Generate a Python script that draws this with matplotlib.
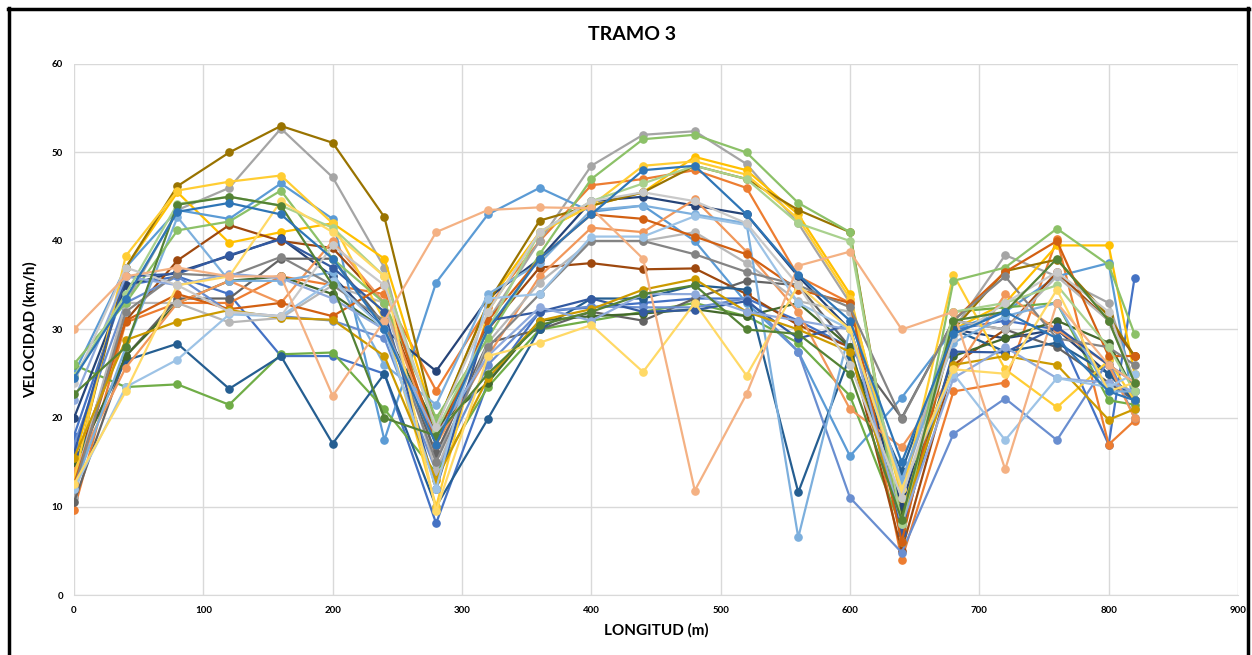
import matplotlib
matplotlib.use("Agg")
import matplotlib.pyplot as plt
from matplotlib.lines import Line2D

plt.rcParams['font.family'] = ['Lato', 'DejaVu Sans']

# distance along the section (m)
longitud = [0, 40, 80, 120, 160, 200, 240, 280, 320, 360, 400,
            440, 480, 520, 560, 600, 640, 680, 720, 760, 800, 820]

# speed runs (km/h)
s1 = [18, 35, 36, 34, 27, 27, 25, 8.1, 24, 32, 32.5, 33, 33.5, 33.5, 31, 28, 8, 30, 31, 30, 17, 35.8]
s2 = [9.6, 30.8, 33, 33, 36, 35, 34, 23.1, 32.5, 40, 46.3, 47, 48, 46, 36, 33, 4.0, 23, 24, 40.2, 17, 19.7]
s3 = [11, 33, 43.5, 46, 52.7, 47.2, 37, 15, 31, 40, 48.5, 52, 52.4, 48.7, 42, 33, 12, 30, 38.4, 36, 33, 24]
s4 = [15, 37, 45.5, 39.8, 41, 42, 38, 19, 33, 41, 44, 45.5, 49.5, 48, 43, 34, 9, 30, 33, 39.5, 39.5, 25]
s5 = [25, 37, 43.5, 42.5, 46.5, 42.5, 17.5, 35.3, 43, 46, 43.3, 44, 40, 33, 27.5, 15.7, 22.3, 30, 32, 36, 37.5, 21]
s6 = [26, 23.5, 23.8, 21.5, 27.2, 27.4, 21, 13.8, 23.5, 30, 31, 32, 33, 31.5, 28.5, 22.5, 7.5, 32, 32.5, 33, 22, 21.5]
s7 = [20, 35, 36.5, 38.3, 40.3, 36, 30, 25.3, 33.5, 38, 44.5, 45, 44, 43, 36, 30, 10, 30, 29, 30, 25, 22]
s8 = [14, 31, 37.8, 41.8, 40, 39.2, 33, 18, 30, 37, 37.5, 36.8, 36.9, 34, 30.5, 28, 5, 26, 30, 36.5, 31, 27]
s9 = [10.5, 27, 33.5, 33.5, 38, 38, 30.5, 16, 28.5, 30, 32, 31, 33.5, 35.5, 35, 28, 20, 31, 30, 28, 24, 22]
s10 = [13.5, 37, 46.2, 50, 53, 51.1, 42.7, 19, 33, 42.3, 44, 45.5, 48.5, 47, 43.5, 41, 7, 30, 36.6, 37.9, 31.5, 27]
s11 = [15, 26.5, 28.4, 23.3, 27, 17.1, 25, 10, 19.9, 30, 33.5, 33.5, 35, 34.5, 11.6, 27, 14, 30, 27.5, 28.5, 25, 22]
s12 = [14.5, 27, 33, 35.5, 36, 34, 30, 19, 24, 31, 31.5, 31.8, 32.3, 31.5, 33, 28, 9, 27, 29, 31, 28.5, 23]
s13 = [17, 33, 36, 32, 31.5, 31, 29, 14, 26, 32, 32.6, 32.5, 32.5, 33.5, 27.5, 11, 4.8, 18.2, 22.2, 17.5, 26.5, 20]
s14 = [14, 25.7, 33, 35.5, 33, 40, 33, 17, 27, 36, 41.5, 41, 44.7, 38.8, 32, 21, 16.7, 25, 34, 30, 26, 20]
s15 = [12.5, 33, 33, 30.8, 31.3, 35, 33, 14, 28.5, 35.3, 40, 40, 41, 37.5, 33.2, 32, 12.5, 31, 30, 36, 31, 24]
s16 = [13, 38.3, 45.7, 46.7, 47.4, 42, 31, 10, 32, 41, 44, 48.5, 49, 47.5, 42.5, 33.5, 11, 36.2, 25.5, 21.2, 26.5, 22]
s17 = [12, 28, 42.7, 35.5, 35.5, 36.5, 26, 21.5, 34, 37.5, 43.5, 44, 43, 42, 6.5, 30, 13, 28.5, 31.5, 33, 23, 23]
s18 = [26.1, 33, 41.2, 42.2, 45.7, 38, 33, 20, 29, 38.5, 47, 51.5, 52, 50, 44.3, 41, 6, 35.5, 37, 41.4, 37.3, 29.5]
s19 = [16, 36, 36.3, 38.4, 40.2, 37, 32, 12, 31, 32, 33.5, 32, 32.2, 33.2, 29, 30.5, 7, 27.5, 27.4, 30.3, 26, 24]
s20 = [12.5, 31, 34, 32.3, 33, 31.5, 35, 17, 31, 38, 43, 42.5, 40.5, 38.5, 34.5, 33, 6, 31, 36.5, 40, 27, 27]
s21 = [12, 32, 36.3, 36, 38.2, 35, 31, 15, 28, 34, 40, 40, 38.5, 36.5, 35, 32.5, 19.9, 31, 36, 29, 28, 26]
s22 = [15.5, 28.8, 30.9, 32.2, 31.3, 31.1, 27, 13, 24.5, 31, 32.3, 34.5, 35.7, 32, 30, 27.5, 8.5, 26, 27, 26, 19.8, 21]
s23 = [22, 36, 35, 36.3, 35.8, 33.5, 30, 18, 27, 32.5, 31, 34, 34, 32, 31, 30, 8, 24.5, 28, 24.5, 24, 23]
s24 = [24.7, 34, 44.2, 45, 44, 41.5, 36, 18.5, 30, 41, 44.5, 46.5, 48.5, 47, 42, 40, 8, 32, 33, 35, 28, 23]
s25 = [12, 23.5, 26.6, 31.7, 31.5, 35.5, 30, 12, 33.5, 34, 40.5, 40.5, 42.8, 41.8, 33, 30, 12, 25, 17.5, 24.5, 23.5, 25]
s26 = [12.5, 23, 35, 36, 44.5, 41, 36, 9.5, 27, 28.5, 30.5, 25.2, 33, 24.8, 35, 30, 12, 25.5, 25, 34.5, 23, 24]
s27 = [24, 37, 35, 32, 31.5, 39.5, 35, 19, 32, 41, 44.5, 45.5, 44.5, 42, 35, 26, 11, 29, 33, 36.5, 32, 24]
s28 = [30, 36, 37, 36, 36, 22.5, 31, 41, 43.5, 43.8, 43.7, 38, 11.8, 22.7, 37.2, 38.8, 30, 32, 14.2, 33, 26, 24]
s29 = [22.7, 28, 44.1, 45, 44, 35, 20, 18, 25, 30.5, 32, 34, 35, 30, 29.5, 25, 8.5, 31, 32, 38, 31, 24]
s30 = [24.5, 33.5, 43.3, 44.3, 43, 38, 30, 17, 30, 38, 43, 48, 48.5, 43, 36.2, 31, 15, 29.5, 32, 29, 23, 22]

series = [s1, s2, s3, s4, s5, s6, s7, s8, s9, s10, s11, s12, s13, s14, s15,
          s16, s17, s18, s19, s20, s21, s22, s23, s24, s25, s26, s27, s28, s29, s30]

# excel-like office palette
colores = ['#4472C4', '#ED7D31', '#A5A5A5', '#FFC000', '#5B9BD5', '#70AD47',
           '#264478', '#9E480E', '#636363', '#997300', '#255E91', '#43682B',
           '#698ED0', '#F1975A', '#B7B7B7', '#FFCD33', '#7CAFDD', '#8CC168',
           '#335AA1', '#D26012', '#848484', '#CC9A00', '#8FAADC', '#A9D18E',
           '#9DC3E6', '#FFD966', '#C9C9C9', '#F4B183', '#548235', '#2E75B6']

fig = plt.figure(figsize=(12.52, 6.55), dpi=100)
ax = fig.add_axes([0.0591, 0.0916, 0.9297, 0.8107])

for vals, c in zip(series, colores):
    ax.plot(longitud, vals, color=c, lw=1.6, marker='o', ms=5.2, zorder=3)

ax.set_xlim(0, 900)
ax.set_ylim(0, 60)
ax.set_xticks(range(0, 901, 100))
ax.set_yticks(range(0, 61, 10))
ax.grid(True, color='#D9D9D9', lw=1.0)
ax.set_axisbelow(True)
for s in ['top', 'right', 'left']:
    ax.spines[s].set_visible(False)
ax.spines['bottom'].set_color('#D9D9D9')
ax.tick_params(length=0, labelsize=7, pad=8)
for lab in ax.get_xticklabels() + ax.get_yticklabels():
    lab.set_fontweight('bold')

ax.set_xlabel('LONGITUD (m)', fontsize=11, fontweight='bold', labelpad=6)
ax.set_ylabel('VELOCIDAD (km/h)', fontsize=11, fontweight='bold', labelpad=10)
fig.text(0.505, 0.947, 'TRAMO 3', ha='center', va='center', fontsize=14, fontweight='bold')

# black frame of the screenshot
fig.add_artist(Line2D([0.0075, 0.0075], [0, 0.988], color='black', lw=2.5, transform=fig.transFigure))
fig.add_artist(Line2D([0.0065, 0.9975], [0.987, 0.987], color='black', lw=2.5, transform=fig.transFigure))
fig.add_artist(Line2D([0.9965, 0.9965], [0, 0.988], color='black', lw=2.5, transform=fig.transFigure))

fig.savefig('out.png', dpi=100)
